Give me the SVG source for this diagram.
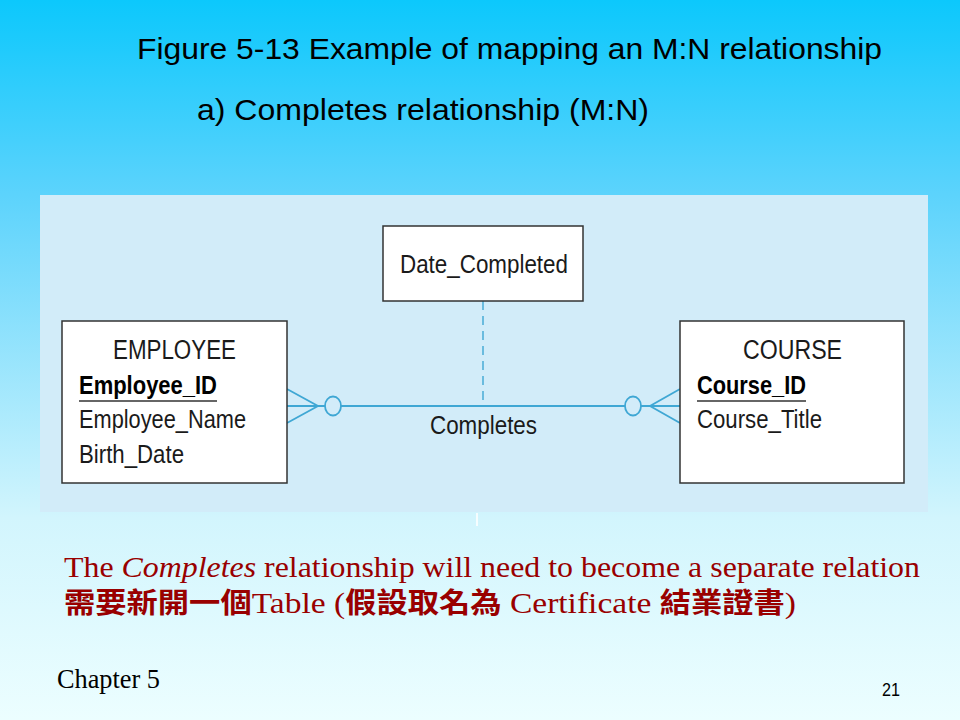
<svg xmlns="http://www.w3.org/2000/svg" width="960" height="720" viewBox="0 0 960 720">
  <defs>
    <linearGradient id="bg" x1="0" y1="0" x2="0" y2="1">
      <stop offset="0" stop-color="#0cc8fc"/>
      <stop offset="0.27" stop-color="#5cd3fc"/>
      <stop offset="0.72" stop-color="#d2f5fd"/>
      <stop offset="1" stop-color="#ecfeff"/>
    </linearGradient>
  </defs>
  <style>
    .title { font-family: "Liberation Sans", Arial, sans-serif; font-size: 29px; fill: #000; }
    .box { fill: #ffffff; stroke: #333333; stroke-width: 1.5; }
    .er { font-family: "Liberation Sans", Arial, sans-serif; font-size: 26px; fill: #1a1a1a; }
    .erh { font-family: "Liberation Sans", Arial, sans-serif; font-size: 27px; fill: #1a1a1a; }
    .key { font-weight: bold; fill: #000; }
    .ul { stroke: #333333; stroke-width: 1.5; }
    .conn { stroke: #3fa7d4; stroke-width: 1.8; fill: none; }
    .dash { stroke: #3fa7d4; stroke-width: 1.4; stroke-dasharray: 9 6; fill: none; }
    .note { font-family: "Liberation Serif", "Times New Roman", "Noto Sans CJK TC", serif; font-size: 30px; fill: #990000; }
    .cjk { font-family: "Noto Sans CJK TC", sans-serif; font-weight: bold; font-size: 28px; }
    .foot { font-family: "Liberation Serif", "Times New Roman", serif; font-size: 28px; fill: #000; }
    .num { font-family: "Liberation Sans", Arial, sans-serif; font-size: 18px; fill: #000; }
  </style>

  <rect x="0" y="0" width="960" height="720" fill="url(#bg)"/>

  <text class="title" x="137" y="59" textLength="745" lengthAdjust="spacingAndGlyphs">Figure 5-13 Example of mapping an M:N relationship</text>
  <text class="title" x="197" y="120" textLength="452" lengthAdjust="spacingAndGlyphs">a) Completes relationship (M:N)</text>

  <rect x="40" y="195" width="888" height="317" fill="#d2ecf9"/>
  <line x1="477" y1="513" x2="477" y2="526" stroke="#ffffff" stroke-width="2" opacity="0.8"/>

  <g id="connectors">
    <line class="dash" x1="483" y1="301" x2="483" y2="406"/>
    <line class="conn" x1="287" y1="406" x2="325" y2="406"/>
    <line class="conn" x1="341" y1="406" x2="625" y2="406"/>
    <line class="conn" x1="641" y1="406" x2="680" y2="406"/>
    <polyline class="conn" points="287,389 318,406 287,423"/>
    <ellipse class="conn" cx="333" cy="406" rx="8" ry="9.5"/>
    <ellipse class="conn" cx="633" cy="406" rx="8" ry="9.5"/>
    <polyline class="conn" points="680,389 650,406 680,423"/>
  </g>

  <g id="relationship">
    <text class="er" x="430" y="434" textLength="107" lengthAdjust="spacingAndGlyphs">Completes</text>
  </g>

  <g id="date_completed">
    <rect class="box" x="383" y="226" width="200" height="75"/>
    <text class="er" x="400" y="273" textLength="168" lengthAdjust="spacingAndGlyphs">Date_Completed</text>
  </g>

  <g id="employee">
    <rect class="box" x="62" y="321" width="225" height="162"/>
    <text class="erh" x="113" y="359" textLength="123" lengthAdjust="spacingAndGlyphs">EMPLOYEE</text>
    <text class="er key" x="79" y="394" textLength="138" lengthAdjust="spacingAndGlyphs">Employee_ID</text>
    <line class="ul" x1="79" y1="401" x2="217" y2="401"/>
    <text class="er" x="79" y="428" textLength="167" lengthAdjust="spacingAndGlyphs">Employee_Name</text>
    <text class="er" x="79" y="463" textLength="105" lengthAdjust="spacingAndGlyphs">Birth_Date</text>
  </g>

  <g id="course">
    <rect class="box" x="680" y="321" width="224" height="162"/>
    <text class="erh" x="743" y="359" textLength="99" lengthAdjust="spacingAndGlyphs">COURSE</text>
    <text class="er key" x="697" y="394" textLength="109" lengthAdjust="spacingAndGlyphs">Course_ID</text>
    <line class="ul" x1="697" y1="401" x2="806" y2="401"/>
    <text class="er" x="697" y="428" textLength="125" lengthAdjust="spacingAndGlyphs">Course_Title</text>
  </g>

  <text class="note" x="64" y="577" textLength="856" lengthAdjust="spacingAndGlyphs">The <tspan font-style="italic">Completes</tspan> relationship will need to become a separate relation</text>
  <text class="note" x="64" y="613" textLength="732" lengthAdjust="spacingAndGlyphs"><tspan class="cjk">需要新開一個</tspan>Table (<tspan class="cjk">假設取名為</tspan> Certificate <tspan class="cjk">結業證書</tspan>)</text>

  <text class="foot" x="57" y="688" textLength="103" lengthAdjust="spacingAndGlyphs">Chapter 5</text>
  <text class="num" x="882" y="696" textLength="18" lengthAdjust="spacingAndGlyphs">21</text>
</svg>
